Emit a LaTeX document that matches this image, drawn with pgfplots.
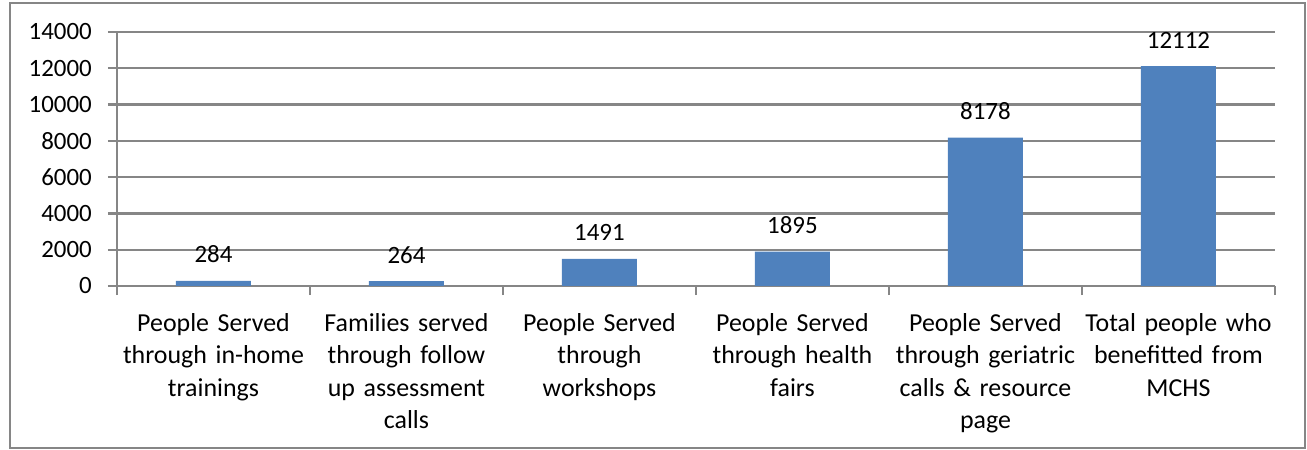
\documentclass[border=0pt]{standalone}
\usepackage{pgfplots}
\pgfplotsset{compat=1.18}
\usepackage{fontspec}
\setmainfont{Carlito}
\definecolor{barblue}{HTML}{4F81BD}
\definecolor{gridgrey}{HTML}{868686}
\begin{document}
\begin{tikzpicture}[x=1bp,y=1bp]
\useasboundingbox (-117,-164) rectangle (1190,286);
\draw[gridgrey, line width=2.2bp] (-107,-162) rectangle (1188,283);
\begin{axis}[
  at={(0,0)}, anchor=south west,
  scale only axis, width=1158bp, height=254bp,
  xmin=-0.5, xmax=5.5, ymin=0, ymax=14000,
  axis x line=bottom, axis y line=left,
  axis line style={gridgrey, line width=2.4bp, -},
  xtick={0,1,2,3,4,5},
  xticklabels={{People Served\\through in-home\\trainings},
               {Families served\\through follow\\up assessment\\calls},
               {People Served\\through\\workshops},
               {People Served\\through health\\fairs},
               {People Served\\through geriatric\\calls \& resource\\page},
               {Total people who\\benefitted from\\MCHS}},
  major x tick style={draw=none},
  minor xtick={-0.5,0.5,1.5,2.5,3.5,4.5,5.5},
  minor tick length=9bp,
  minor x tick style={gridgrey, line width=2.4bp},
  ytick={0,2000,4000,6000,8000,10000,12000,14000},
  major tick length=9bp,
  tick align=outside,
  major y tick style={gridgrey, line width=2.4bp},
  ymajorgrids, grid style={gridgrey, line width=2.4bp},
  scaled y ticks=false,
  /pgf/number format/.cd, set thousands separator={}, assume math mode=true, /pgfplots/.cd,
  yticklabel style={font=\fontsize{25}{30}\selectfont, anchor=east, inner sep=0pt, xshift=-16bp},
  xticklabel style={font=\fontsize{26}{32.7}\selectfont, anchor=north, inner sep=0pt, align=center, text width=200bp, yshift=-18bp},
  ybar, bar width=75bp,
  nodes near coords,
  every node near coord/.append style={font=\fontsize{25}{30}\selectfont, anchor=base, inner sep=0pt, yshift=18bp, text=black},
  clip=false,
]
\addplot[fill=barblue, draw=none] coordinates {(0,284) (1,264) (2,1491) (3,1895) (4,8178) (5,12112)};
\end{axis}
\end{tikzpicture}
\end{document}
